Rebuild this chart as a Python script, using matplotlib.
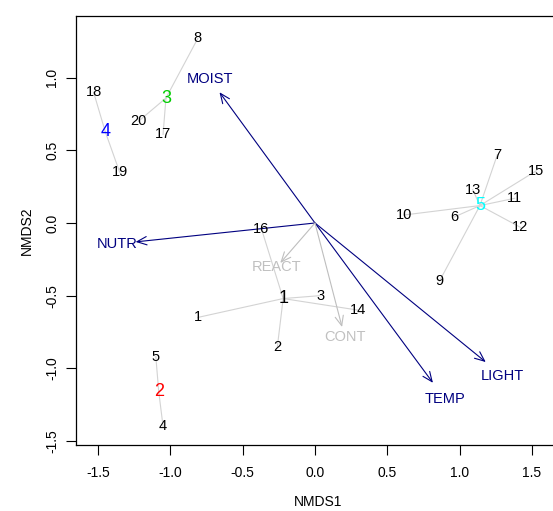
import matplotlib
matplotlib.use("Agg")
import matplotlib.pyplot as plt

plt.rcParams['font.family'] = ['Liberation Sans', 'DejaVu Sans']
plt.rcParams['axes.unicode_minus'] = False

# Site scores (NMDS1, NMDS2)
site_labels = ["1", "2", "3", "4", "5", "6", "7", "8", "9", "10",
               "11", "12", "13", "14", "15", "16", "17", "18", "19", "20"]
site_x = [-0.81, -0.26, 0.035, -1.05, -1.10, 0.96, 1.26, -0.81, 0.86, 0.615,
          1.38, 1.42, 1.09, 0.30, 1.53, -0.37, -1.05, -1.53, -1.35, -1.22]
site_y = [-0.65, -0.85, -0.50, -1.40, -0.92, 0.04, 0.47, 1.27, -0.40, 0.055,
          0.17, -0.03, 0.23, -0.60, 0.36, -0.04, 0.61, 0.90, 0.35, 0.70]
site_group = [1, 1, 1, 2, 2, 5, 5, 3, 5, 5,
              5, 5, 5, 1, 5, 1, 3, 4, 4, 3]

# Group centroids
group_ids = [1, 2, 3, 4, 5]
group_x = [-0.22, -1.08, -1.03, -1.45, 1.14]
group_y = [-0.52, -1.16, 0.86, 0.63, 0.12]
group_colors = ["black", "red", "#00CD00", "blue", "cyan"]

# Environmental vectors
env_names = ["MOIST", "NUTR", "TEMP", "LIGHT", "REACT", "CONT"]
env_x = [-0.66, -1.24, 0.815, 1.18, -0.24, 0.187]
env_y = [0.90, -0.13, -1.10, -0.957, -0.275, -0.716]
env_signif = [True, True, True, True, False, False]

fig = plt.figure(figsize=(5.53, 5.11), dpi=100)
W, H = 553, 511
left, right, top, bottom = 76, 560, 16, 445
ax = fig.add_axes([left / W, 1 - bottom / H, (right - left) / W, (bottom - top) / H])

x0, sx, y0, sy = 315, 144.7, 223, 145.3
ax.set_xlim((left - x0) / sx, (right - x0) / sx)
ax.set_ylim((y0 - bottom) / sy, (y0 - top) / sy)

# spider lines
for gx, gy, gid in zip(group_x, group_y, group_ids):
    for x, y, g in zip(site_x, site_y, site_group):
        if g == gid:
            ax.plot([gx, x], [gy, y], color="#D3D3D3", lw=0.8, zorder=1)

# site labels
for lab, x, y in zip(site_labels, site_x, site_y):
    ax.text(x, y, lab, ha="center", va="center", fontsize=10.5, color="black", zorder=3)

# centroid labels
for gid, x, y, c in zip(group_ids, group_x, group_y, group_colors):
    ax.text(x, y, str(gid), ha="center", va="center", fontsize=13, color=c, zorder=4)

# env arrows
for name, x, y, sig in zip(env_names, env_x, env_y, env_signif):
    col = "navy" if sig else "#BEBEBE"
    tcol = "navy" if sig else "#C0C0C0"
    ax.annotate("", xy=(x, y), xytext=(0, 0),
                arrowprops=dict(arrowstyle="->,head_length=0.7,head_width=0.3",
                                color=col, lw=0.8, shrinkA=0, shrinkB=0),
                zorder=2)
    ax.text(x * 1.1, y * 1.1, name, ha="center", va="center", fontsize=10.5,
            color=tcol, zorder=3)

ax.set_xticks([-1.5, -1.0, -0.5, 0.0, 0.5, 1.0, 1.5])
ax.set_yticks([-1.5, -1.0, -0.5, 0.0, 0.5, 1.0])
ax.tick_params(axis="both", direction="out", length=7, width=0.8, labelsize=10,
               colors="black")
ax.tick_params(axis="x", pad=8)
ax.tick_params(axis="y", pad=5)
for lab in ax.get_yticklabels():
    lab.set_rotation(90)
    lab.set_va("center")
for s in ax.spines.values():
    s.set_linewidth(0.9)
    s.set_color("black")

ax.set_xlabel("NMDS1", fontsize=10, labelpad=11)
ax.set_ylabel("NMDS2", fontsize=10, labelpad=8)

fig.savefig("out.png", dpi=100)
